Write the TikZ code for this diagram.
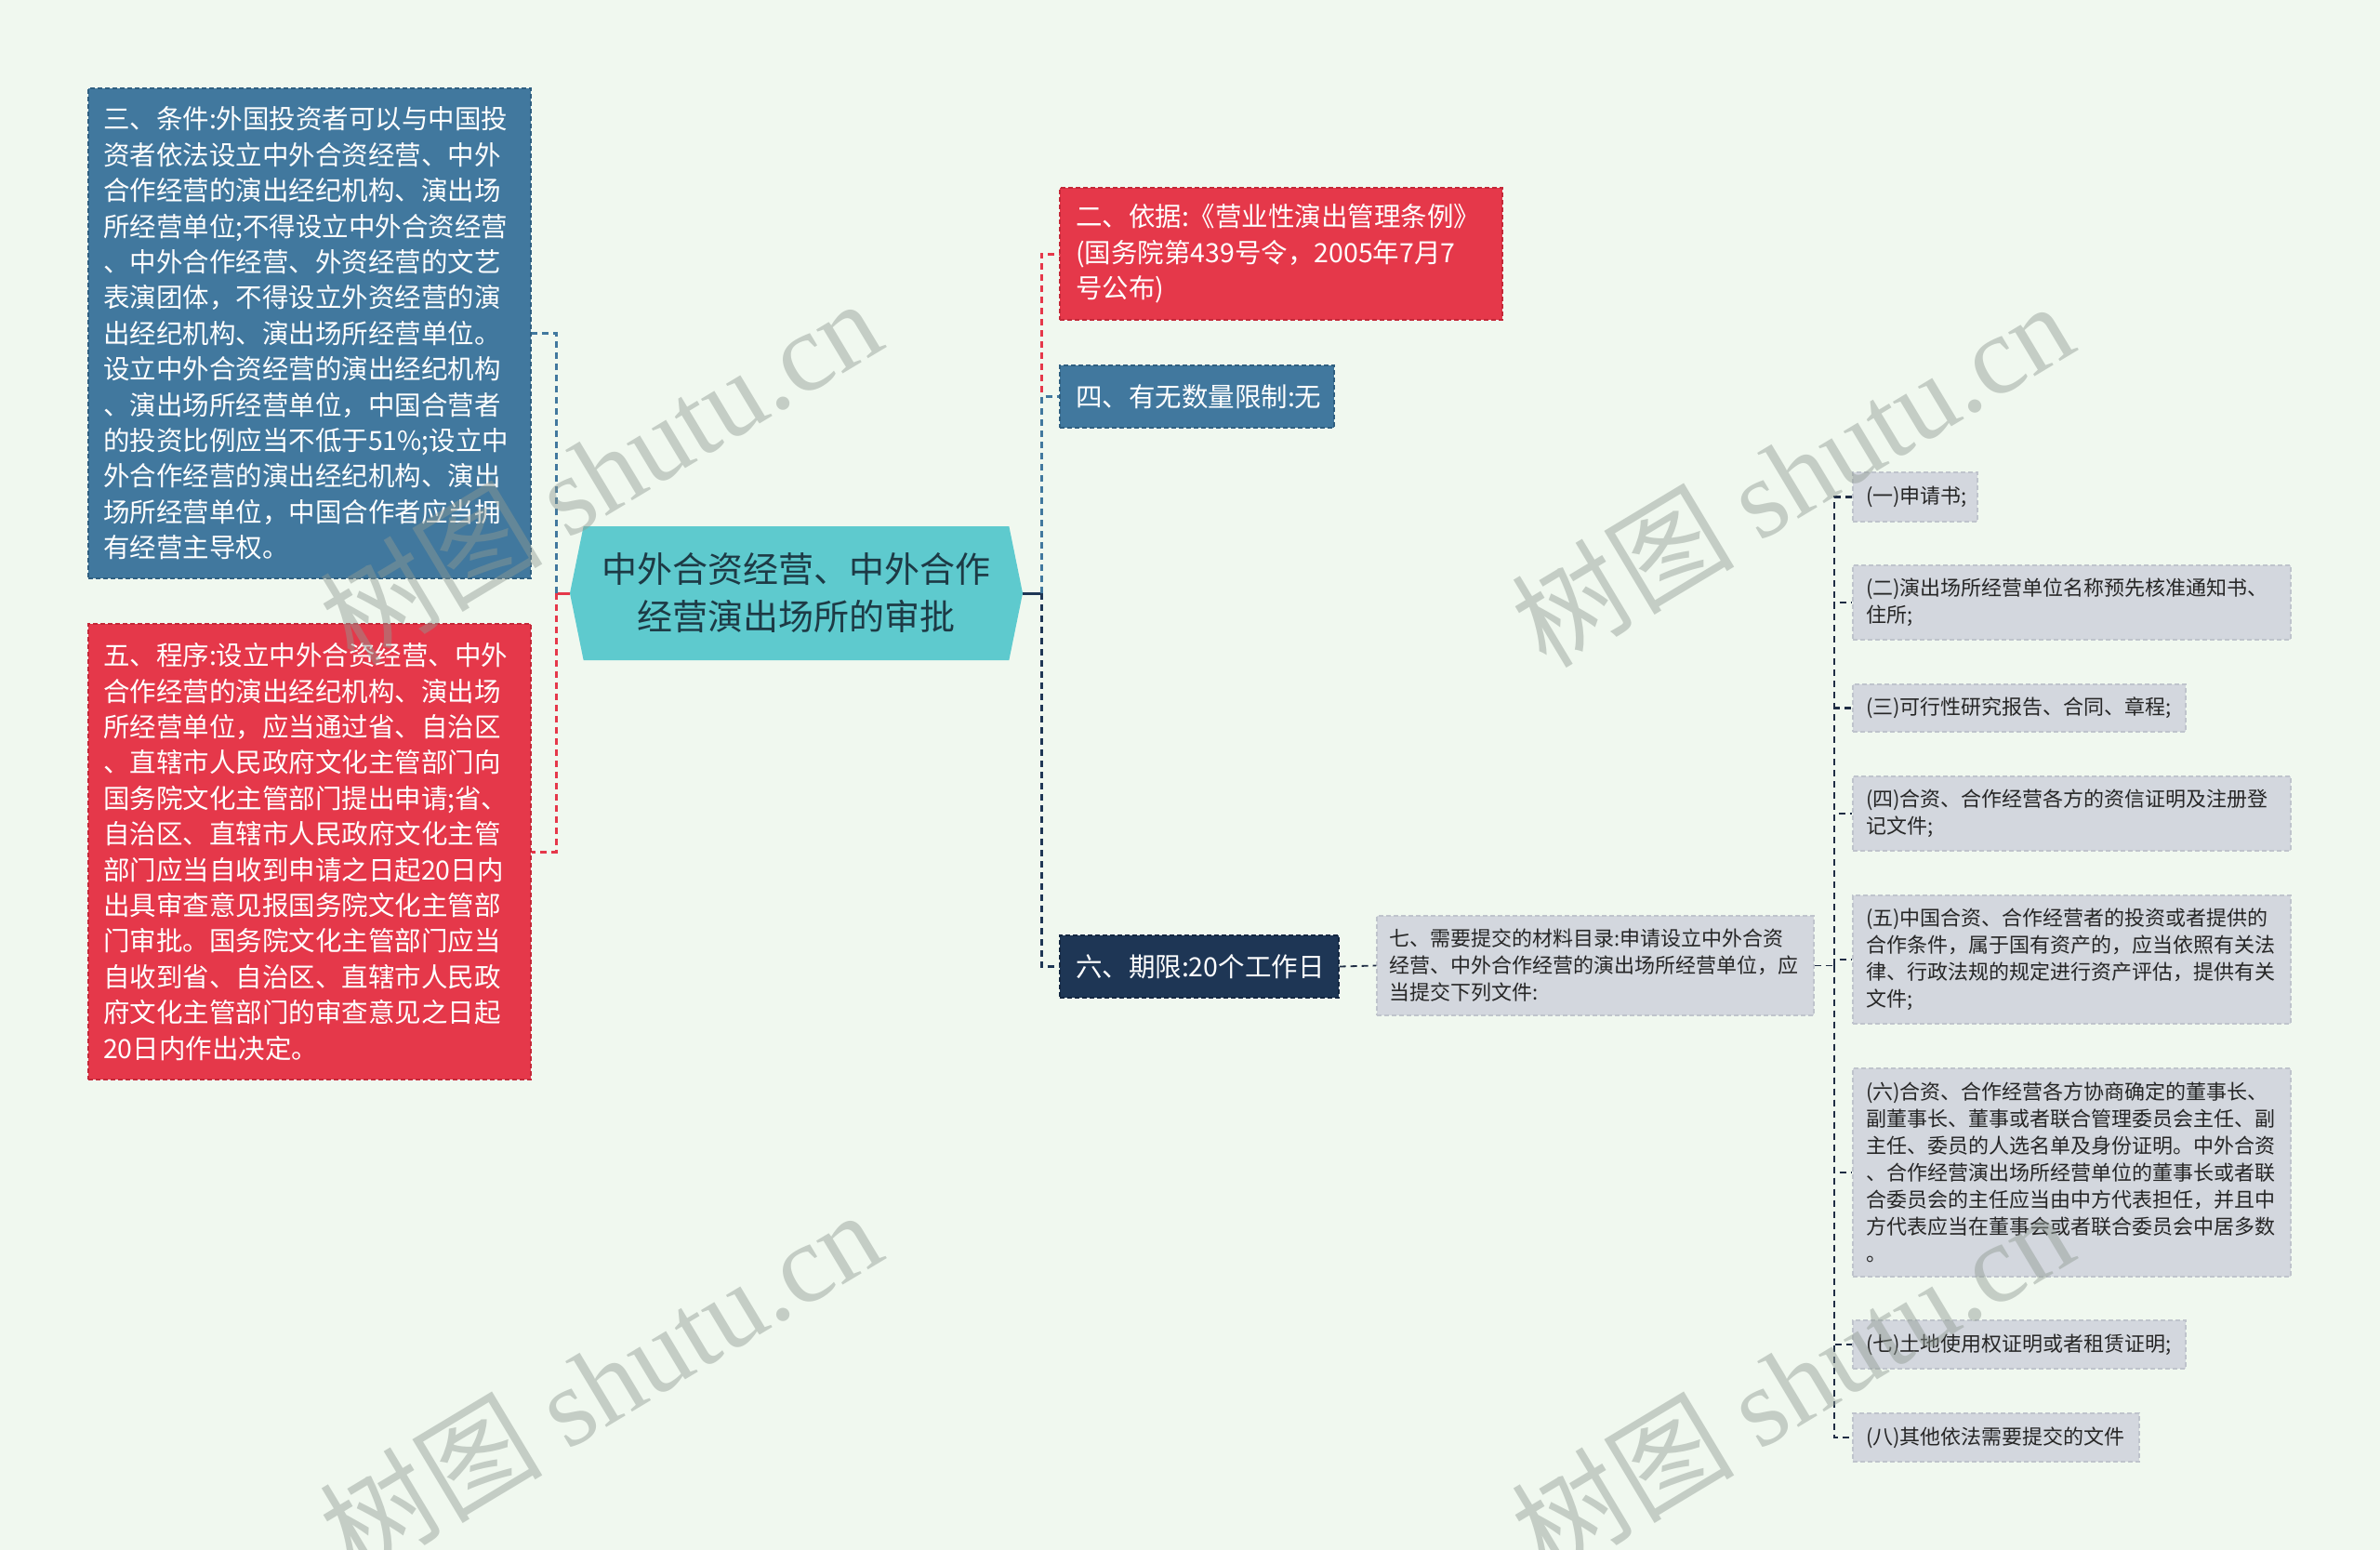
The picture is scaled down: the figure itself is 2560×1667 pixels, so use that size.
\documentclass[tikz,border=0pt]{standalone}
\usepackage{fontspec}
\setmainfont{Noto Sans CJK SC}
\newfontfamily\wmlatin{Liberation Serif}
\usetikzlibrary{shapes.symbols}
\definecolor{cBg}{HTML}{F0F8EF}
\definecolor{cBlue}{HTML}{41789E}
\definecolor{cBlueD}{HTML}{2F5F80}
\definecolor{cRed}{HTML}{E5384A}
\definecolor{cRedD}{HTML}{C42838}
\definecolor{cNavy}{HTML}{1E3655}
\definecolor{cNavyD}{HTML}{132640}
\definecolor{cTeal}{HTML}{5ECACE}
\definecolor{cGrey}{HTML}{D3D7DE}
\definecolor{cGreyD}{HTML}{BFC4CC}
\definecolor{cDark}{HTML}{1F2D44}
\definecolor{cRootText}{HTML}{1D3A45}
\definecolor{cWm}{HTML}{8F9A92}
\begin{document}
\begin{tikzpicture}[x=1pt,y=-1pt,
  box/.style={draw, dash pattern=on 5pt off 3pt, line width=1.2pt, inner ysep=0pt, align=left},
  bigtext/.style={font=\fontsize{28.5}{38.4}\selectfont},
  smalltext/.style={font=\fontsize{22}{29}\selectfont, text=black!85},
  bluebox/.style={box, bigtext, fill=cBlue, draw=cBlueD, text=white, inner xsep=16pt},
  redbox/.style={box, bigtext, fill=cRed, draw=cRedD, text=white, inner xsep=17pt},
  navybox/.style={box, bigtext, fill=cNavy, draw=cNavyD, text=white, inner xsep=17pt},
  greybox/.style={box, smalltext, fill=cGrey, draw=cGreyD, inner xsep=14pt},
  busline/.style={line width=3pt, dash pattern=on 7pt off 5pt},
  thinline/.style={line width=1.8pt, dash pattern=on 7pt off 5pt, draw=cDark},
  wm/.style={rotate=31, text=cWm, opacity=0.45, font=\fontsize{120}{130}\selectfont, inner sep=0pt}
]
\fill[cBg] (0,0) rectangle (2560,1667);
\useasboundingbox (0,0) rectangle (2560,1667);

% root
\node[shape=signal, signal to=west and east, signal pointer angle=157, fill=cTeal,
  minimum width=487pt, minimum height=144pt, inner sep=0pt, align=center,
  text=cRootText, font=\fontsize{38}{51}\selectfont] (root) at (856.5,638)
  {中外合资经营、中外合作\\经营演出场所的审批};

% left
\node[bluebox, minimum width=476pt, minimum height=527pt, text width=444pt] (n3) at (333,358.5)
{三、条件:外国投资者可以与中国投\\资者依法设立中外合资经营、中外\\合作经营的演出经纪机构、演出场\\所经营单位;不得设立中外合资经营\\、中外合作经营、外资经营的文艺\\表演团体，不得设立外资经营的演\\出经纪机构、演出场所经营单位。\\设立中外合资经营的演出经纪机构\\、演出场所经营单位，中国合营者\\的投资比例应当不低于51\%;设立中\\外合作经营的演出经纪机构、演出\\场所经营单位，中国合作者应当拥\\有经营主导权。};

\node[redbox, inner xsep=16pt, minimum width=476pt, minimum height=490pt, text width=444pt] (n5) at (333,916)
{五、程序:设立中外合资经营、中外\\合作经营的演出经纪机构、演出场\\所经营单位，应当通过省、自治区\\、直辖市人民政府文化主管部门向\\国务院文化主管部门提出申请;省、\\自治区、直辖市人民政府文化主管\\部门应当自收到申请之日起20日内\\出具审查意见报国务院文化主管部\\门审批。国务院文化主管部门应当\\自收到省、自治区、直辖市人民政\\府文化主管部门的审查意见之日起\\20日内作出决定。};

% right first level
\node[redbox, minimum width=476pt, minimum height=142pt, text width=442pt] (n2) at (1378,273)
{二、依据:《营业性演出管理条例》\\(国务院第439号令，2005年7月7\\号公布)};
\node[bluebox, inner xsep=17pt, minimum width=295pt, minimum height=67pt, text width=261pt] (n4) at (1287.5,426.5)
{四、有无数量限制:无};
\node[navybox, minimum width=300pt, minimum height=67pt, text width=266pt] (n6) at (1290,1039.5)
{六、期限:20个工作日};

\node[greybox, inner xsep=13pt, minimum width=470pt, minimum height=107pt, text width=444pt] (n7) at (1716,1038.5)
{七、需要提交的材料目录:申请设立中外合资\\经营、中外合作经营的演出场所经营单位，应\\当提交下列文件:};

% items
\node[greybox, minimum width=134pt, minimum height=53pt, text width=106pt] (i1) at (2060,534.5) {(一)申请书;};
\node[greybox, minimum width=471pt, minimum height=80pt, text width=443pt] (i2) at (2228.5,648) {(二)演出场所经营单位名称预先核准通知书、\\住所;};
\node[greybox, minimum width=358pt, minimum height=51pt, text width=330pt] (i3) at (2172,761.5) {(三)可行性研究报告、合同、章程;};
\node[greybox, minimum width=471pt, minimum height=80pt, text width=443pt] (i4) at (2228.5,875) {(四)合资、合作经营各方的资信证明及注册登\\记文件;};
\node[greybox, minimum width=471pt, minimum height=138pt, text width=443pt] (i5) at (2228.5,1032) {(五)中国合资、合作经营者的投资或者提供的\\合作条件，属于国有资产的，应当依照有关法\\律、行政法规的规定进行资产评估，提供有关\\文件;};
\node[greybox, minimum width=471pt, minimum height=224pt, text width=443pt] (i6) at (2228.5,1261) {(六)合资、合作经营各方协商确定的董事长、\\副董事长、董事或者联合管理委员会主任、副\\主任、委员的人选名单及身份证明。中外合资\\、合作经营演出场所经营单位的董事长或者联\\合委员会的主任应当由中方代表担任，并且中\\方代表应当在董事会或者联合委员会中居多数\\。};
\node[greybox, minimum width=358pt, minimum height=52pt, text width=330pt] (i7) at (2172,1446) {(七)土地使用权证明或者租赁证明;};
\node[greybox, minimum width=308pt, minimum height=52pt, text width=280pt] (i8) at (2147,1546) {(八)其他依法需要提交的文件};

% connectors left
\coordinate (lb) at (598,638);
\draw[cRed, line width=3pt] (root.west) -- (lb);
\draw[busline, cBlue] (lb) |- (n3.east);
\draw[busline, cRed] (lb) |- (n5.east);

% connectors right
\coordinate (rb) at (1120,638);
\draw[cNavy, line width=3pt] (root.east) -- (rb);
\draw[busline, cRed] (rb) |- (n2.west);
\draw[busline, cBlue] (rb) |- (n4.west);
\draw[busline, cNavy] (rb) |- (n6.west);

\draw[thinline] (n6.east) -- (n7.west);
\coordinate (ib) at (1973,1038.5);
\draw[thinline] (n7.east) -- (ib);
\foreach \i in {1,...,8} {
  \draw[busline, line width=2.6pt, cDark] (ib) |- (i\i.west);
}

% watermarks
\node[wm] (wm1) at (645,506) {树图 {\wmlatin shutu.cn}};
\node[wm] (wm2) at (1927,509) {树图 {\wmlatin shutu.cn}};
\node[wm] (wm3) at (645,1486) {树图 {\wmlatin shutu.cn}};
\node[wm] (wm4) at (1927,1486) {树图 {\wmlatin shutu.cn}};
\end{tikzpicture}
\end{document}
